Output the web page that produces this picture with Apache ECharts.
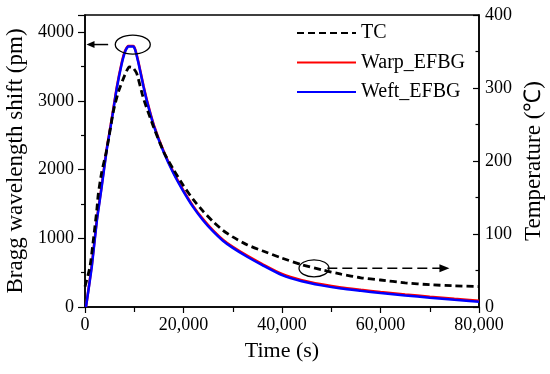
<!DOCTYPE html>
<html>
<head>
<meta charset="utf-8">
<script src="https://cdn.jsdelivr.net/npm/echarts@6/dist/echarts.min.js"></script>
<style>
html,body{margin:0;padding:0;background:#fff;}
#c{width:550px;height:374px;}
</style>
</head>
<body>
<div id="c"></div>
<script>
// ---- data ----
var seriesNames = ['TC', 'Warp_EFBG', 'Weft_EFBG'];

// TC temperature (°C) vs time (s) — right axis
var tcTime = [0, 1000, 1700, 2400, 2700, 3400, 4400, 5760, 6800, 8100, 9000, 9700, 10500, 11900, 13900, 16000, 18000, 20000, 22000, 24000, 26000, 28000, 30000, 33000, 36000, 40000, 44000, 48000, 52000, 56000, 60000, 65000, 70000, 75000, 80000];
var tcTemp = [28, 55, 92, 133, 155, 185, 215, 268, 295, 318, 329, 328, 320, 285, 247, 212, 188, 166, 147, 131, 117, 105, 96, 85, 77, 67, 58, 51, 45, 40, 37, 33, 30.5, 29, 28];

// Bragg wavelength shift (pm) vs time (s) — left axis
var efbgTime = [200, 1400, 2400, 3300, 4400, 5430, 6450, 7460, 8140, 8820, 9800, 10200, 10850, 11870, 12700, 14000, 16000, 18000, 20000, 22000, 24000, 26000, 28000, 30000, 33000, 36000, 40000, 44000, 48000, 52000, 56000, 60000, 65000, 70000, 75000, 80000];
var warpShift = [0, 620, 1270, 1720, 2300, 2740, 3200, 3560, 3730, 3800, 3800, 3750, 3565, 3225, 2975, 2645, 2265, 1955, 1695, 1465, 1275, 1115, 980, 875, 743, 625, 480, 390, 330, 283, 250, 219, 183, 151, 121, 92];
var weftShift = [0, 600, 1250, 1700, 2280, 2720, 3180, 3540, 3716, 3790, 3790, 3740, 3550, 3210, 2960, 2630, 2250, 1940, 1680, 1450, 1260, 1100, 965, 860, 728, 610, 465, 375, 315, 268, 235, 204, 168, 136, 106, 77];

// axis ticks
var xTicks = [0, 20000, 40000, 60000, 80000];
var leftTicks = [0, 1000, 2000, 3000, 4000];
var rightTicks = [0, 100, 200, 300, 400];

// annotations (data coordinates)
var peakMark = [9700, 3820];
var peakArrow = [[4700, 3820], [300, 3820]];
var tailMark = [46500, 53];
var tailArrow = [[49200, 53], [74000, 53]];

function zip(a, b) { return a.map(function (v, i) { return [v, b[i]]; }); }

var FONT = 'Liberation Serif';
var chart = echarts.init(document.getElementById('c'), null, {renderer: 'canvas'});

var axisLineStyle = {color: '#000', width: 1.5};
var tickStyle = {color: '#000', width: 1.2};
var option = {
  animation: false,
  backgroundColor: '#fff',
  textStyle: {fontFamily: FONT, color: '#000'},
  grid: {left: 85, right: 71, top: 15, bottom: 67, show: true, borderColor: '#000', borderWidth: 1.5, containLabel: false, outerBoundsMode: 'none'},
  legend: {
    orient: 'vertical', left: 296, top: 23, padding: 0,
    itemWidth: 59, itemHeight: 14, itemGap: 9.5, itemStyle: {opacity: 0},
    textStyle: {fontFamily: FONT, fontSize: 20, color: '#000'},
    data: seriesNames
  },
  xAxis: {
    type: 'value', min: xTicks[0], max: xTicks[xTicks.length - 1], interval: xTicks[1] - xTicks[0],
    name: 'Time (s)', nameLocation: 'middle', nameGap: 33,
    nameTextStyle: {fontFamily: FONT, fontSize: 22, color: '#000'},
    axisLine: {lineStyle: axisLineStyle},
    axisTick: {show: true, length: 6, lineStyle: tickStyle},
    minorTick: {show: true, splitNumber: 2, length: 5, lineStyle: tickStyle},
    splitLine: {show: false},
    axisLabel: {fontFamily: FONT, fontSize: 18, color: '#000', margin: 9,
      formatter: function (v) { return v.toLocaleString('en-US'); }}
  },
  yAxis: [{
    type: 'value', min: leftTicks[0], max: 4250, interval: leftTicks[1] - leftTicks[0], position: 'left',
    name: 'Bragg wavelength shift (pm)', nameLocation: 'middle', nameGap: 58,
    nameTextStyle: {fontFamily: FONT, fontSize: 23, color: '#000'},
    axisLine: {show: true, lineStyle: axisLineStyle},
    axisTick: {show: true, length: 7, lineStyle: tickStyle},
    minorTick: {show: true, splitNumber: 2, length: 4, lineStyle: tickStyle},
    splitLine: {show: false},
    axisLabel: {fontFamily: FONT, fontSize: 18, color: '#000', margin: 11, showMaxLabel: false,
      formatter: function (v) { return leftTicks.indexOf(v) >= 0 ? String(v) : ''; }}
  }, {
    type: 'value', min: rightTicks[0], max: rightTicks[rightTicks.length - 1], interval: rightTicks[1] - rightTicks[0], position: 'right',
    name: 'Temperature (\u2103)', nameLocation: 'middle', nameGap: 42,
    nameTextStyle: {fontFamily: FONT, fontSize: 23, color: '#000'},
    axisLine: {show: true, lineStyle: axisLineStyle},
    axisTick: {show: true, inside: true, length: 6, lineStyle: tickStyle},
    minorTick: {show: true, splitNumber: 2, length: 3.5, lineStyle: tickStyle},
    splitLine: {show: false},
    axisLabel: {fontFamily: FONT, fontSize: 18, color: '#000', margin: 6}
  }],
  series: [{
    name: seriesNames[0], type: 'line', yAxisIndex: 1, smooth: 0.2, symbol: 'none', z: 3,
    data: zip(tcTime, tcTemp),
    lineStyle: {color: '#000', width: 2.8, type: [7, 4]}, itemStyle: {color: '#000'}
  }, {
    name: seriesNames[1], type: 'line', yAxisIndex: 0, smooth: 0.2, symbol: 'none', z: 2,
    data: zip(efbgTime, warpShift),
    lineStyle: {color: '#ff0000', width: 2.5}, itemStyle: {color: '#ff0000'}
  }, {
    name: seriesNames[2], type: 'line', yAxisIndex: 0, smooth: 0.2, symbol: 'none', z: 2,
    data: zip(efbgTime, weftShift),
    lineStyle: {color: '#0000ff', width: 2.5}, itemStyle: {color: '#0000ff'}
  }]
};
chart.setOption(option);

function px(axis, p) { return chart.convertToPixel({xAxisIndex: 0, yAxisIndex: axis}, p); }
function arrowHead(tip, dir, len, half) {
  return [[tip[0], tip[1]], [tip[0] - dir * len, tip[1] - half], [tip[0] - dir * len, tip[1] + half]];
}
var e1 = px(0, peakMark), a1s = px(0, peakArrow[0]), a1e = px(0, peakArrow[1]);
var e2 = px(1, tailMark), a2s = px(1, tailArrow[0]), a2e = px(1, tailArrow[1]);
chart.setOption({
  graphic: [
    {type: 'ellipse', shape: {cx: e1[0], cy: e1[1], rx: 17.5, ry: 9.5}, style: {fill: 'none', stroke: '#000', lineWidth: 1.3}, z: 10},
    {type: 'line', shape: {x1: a1s[0], y1: a1s[1], x2: a1e[0] + 6, y2: a1e[1]}, style: {stroke: '#000', lineWidth: 1.5}, z: 10},
    {type: 'polygon', shape: {points: arrowHead(a1e, -1, 8, 3.5)}, style: {fill: '#000'}, z: 10},
    {type: 'ellipse', shape: {cx: e2[0], cy: e2[1], rx: 15, ry: 8.5}, style: {fill: 'none', stroke: '#000', lineWidth: 1.3}, z: 10},
    {type: 'line', shape: {x1: a2s[0], y1: a2s[1], x2: a2e[0] - 8, y2: a2e[1]}, style: {stroke: '#000', lineWidth: 1.5, lineDash: [10, 5]}, z: 10},
    {type: 'polygon', shape: {points: arrowHead(a2e, 1, 10, 4)}, style: {fill: '#000'}, z: 10}
  ]
});
</script>
</body>
</html>
